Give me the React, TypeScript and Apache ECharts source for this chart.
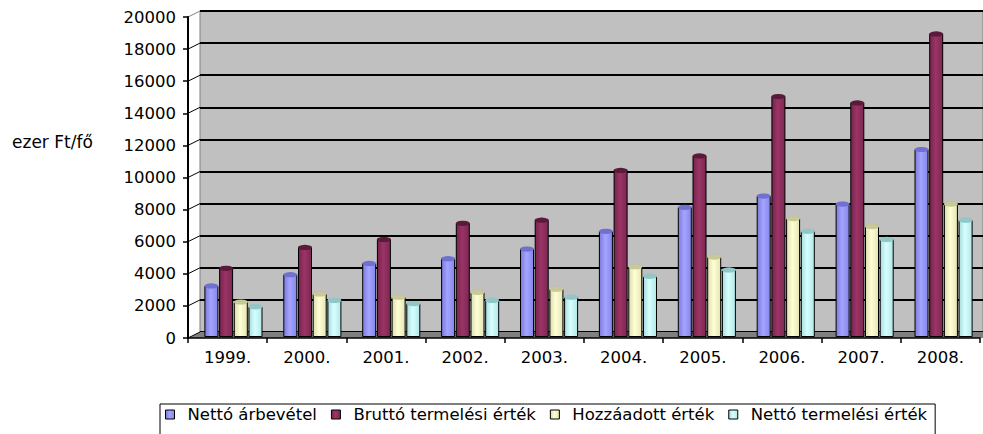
import React, { useEffect, useRef } from "react";
import * as echarts from "echarts";

const categories = ["1999.", "2000.", "2001.", "2002.", "2003.", "2004.", "2005.", "2006.", "2007.", "2008."];
const nettoArbevetel = [3200, 3900, 4600, 4900, 5500, 6600, 8100, 8800, 8300, 11700];
const bruttoTermelesi = [4300, 5600, 6100, 7100, 7300, 10400, 11300, 15000, 14600, 18900];
const hozzaadott = [2200, 2700, 2500, 2800, 3000, 4400, 5000, 7400, 6900, 8300];
const nettoTermelesi = [1900, 2300, 2100, 2300, 2500, 3800, 4200, 6600, 6100, 7300];
const seriesNames = ["Nettó árbevétel", "Bruttó termelési érték", "Hozzáadott érték", "Nettó termelési érték"];
const yTicks = [0, 2000, 4000, 6000, 8000, 10000, 12000, 14000, 16000, 18000, 20000];
const yAxisTitle = "ezer Ft/fő";

const W = 983;
const H = 434;
// front plane
const FL = 188, FT = 17, FR = 980, FB = 338;
// depth offset
const DX = 12, DY = -6;

const FONT = "DejaVu Sans";

function grad(c1: string, c2: string, c3: string) {
  return new echarts.graphic.LinearGradient(0, 0, 1, 0, [
    { offset: 0, color: c1 },
    { offset: 0.45, color: c2 },
    { offset: 1, color: c3 },
  ]);
}

export default function App() {
  const ref = useRef<HTMLDivElement>(null);
  useEffect(() => {
    document.body.style.margin = "0";
    if (!ref.current) return;
    const chart = echarts.init(ref.current, null, { renderer: "svg" });
    const yMax = yTicks[yTicks.length - 1];
    const ph = FB - FT;
    const diag = yTicks.map((v) => {
      const y = FB - (ph * v) / yMax;
      return {
        type: "line",
        z: 5,
        shape: { x1: FL, y1: y, x2: FL + DX, y2: y + DY },
        style: { stroke: v === yMax ? "#808080" : "#000", lineWidth: 1 },
      };
    });
    const bars = [
      { data: nettoArbevetel, fill: grad("#7a7ad8", "#a4a4ff", "#8686ec"), legend: "#9999ff", cap: "#7070d0" },
      { data: bruttoTermelesi, fill: grad("#74244c", "#9c3466", "#7a2852"), legend: "#993366", cap: "#5a1a3a" },
      { data: hozzaadott, fill: grad("#dcdcac", "#ffffd6", "#e4e4b4"), legend: "#ffffcc", cap: "#c8c898" },
      { data: nettoTermelesi, fill: grad("#a8dcdc", "#d6ffff", "#b4e6e6"), legend: "#ccffff", cap: "#90c8c8" },
    ];
    const barSeries = bars.map((b, i) => ({
      name: seriesNames[i],
      type: "bar",
      xAxisIndex: 2, yAxisIndex: 2,
      data: b.data,
      barWidth: 14,
      barGap: "5%",
      z: 3,
      color: b.legend,
      itemStyle: { color: b.fill, borderColor: "#000", borderWidth: 1 },
    }));
    const capSeries = bars.map((b, i) => ({
      name: seriesNames[i],
      type: "pictorialBar",
      xAxisIndex: 2, yAxisIndex: 2,
      data: b.data,
      barWidth: 14,
      barGap: "5%",
      symbol: "circle",
      symbolSize: [14, 5],
      symbolPosition: "end",
      symbolOffset: [0, "-50%"],
      z: 4,
      color: b.legend,
      itemStyle: { color: b.cap, borderColor: "#000", borderWidth: 1 },
    }));
    chart.setOption({
      animation: false,
      textStyle: { fontFamily: FONT, color: "#000" },
      grid: [
        { left: FL, top: FT, width: FR - FL, height: FB - FT, containLabel: false },
        {
          left: FL + DX, top: FT + DY, width: W - (FL + DX) + 5, height: FB - FT, show: true,
          backgroundColor: "#c0c0c0", borderColor: "#808080", borderWidth: 1, z: 0,
        },
        { left: FL + DX / 2, top: FT - 1, width: FR - FL, height: FB - FT, containLabel: false },
      ],
      xAxis: [
        {
          type: "category", gridIndex: 0, data: categories,
          axisLine: { lineStyle: { color: "#000", width: 1.5 } },
          axisTick: { show: true, length: 5, lineStyle: { color: "#000", width: 1.5 } },
          axisLabel: { fontSize: 16.5, fontFamily: FONT, color: "#000", margin: 11 },
          z: 6,
        },
        { type: "category", gridIndex: 1, data: categories, show: false },
        { type: "category", gridIndex: 2, data: categories, show: false },
      ],
      yAxis: [
        {
          type: "value", gridIndex: 0, min: 0, max: yMax, interval: 2000,
          axisLine: { show: true, lineStyle: { color: "#000", width: 2 } },
          axisTick: { show: true, length: 5, lineStyle: { color: "#000", width: 1.5 } },
          axisLabel: {
            fontSize: 16.5, fontFamily: FONT, color: "#000", margin: 12,
            formatter: (v: number) => String(v),
          },
          splitLine: { show: false },
          z: 6,
        },
        {
          type: "value", gridIndex: 1, min: 0, max: yMax, interval: 2000,
          axisLine: { show: false }, axisTick: { show: false }, axisLabel: { show: false },
          splitLine: { show: true, lineStyle: { color: "#000", width: 2 } },
        },
        {
          type: "value", gridIndex: 2, min: 0, max: yMax, interval: 2000, show: false,
          splitLine: { show: false },
        },
      ],
      legend: {
        data: seriesNames,
        left: 160, top: 404,
        padding: [2, 8, 20, 5],
        borderColor: "#000", borderWidth: 1,
        itemWidth: 9, itemHeight: 9, itemGap: 14,
        icon: "rect",
        itemStyle: { borderColor: "#000", borderWidth: 1 },
        textStyle: { fontSize: 16.5, fontFamily: FONT, color: "#000", padding: [0, 0, 0, 8] },
      },
      graphic: [
        {
          type: "polygon", z: 1,
          shape: { points: [[FL, FB], [FL + DX, FB + DY], [W + 5, FB + DY], [W + 5, FB]] },
          style: { fill: "#808080" },
        },
        ...diag,
        {
          type: "text", x: 12, y: 133, z: 10,
          style: { text: yAxisTitle, fontSize: 17, fontFamily: FONT, fill: "#000" },
        },
      ],
      series: [...barSeries, ...capSeries],
    });
    return () => chart.dispose();
  }, []);
  return <div ref={ref} style={{ width: W, height: H }} />;
}
